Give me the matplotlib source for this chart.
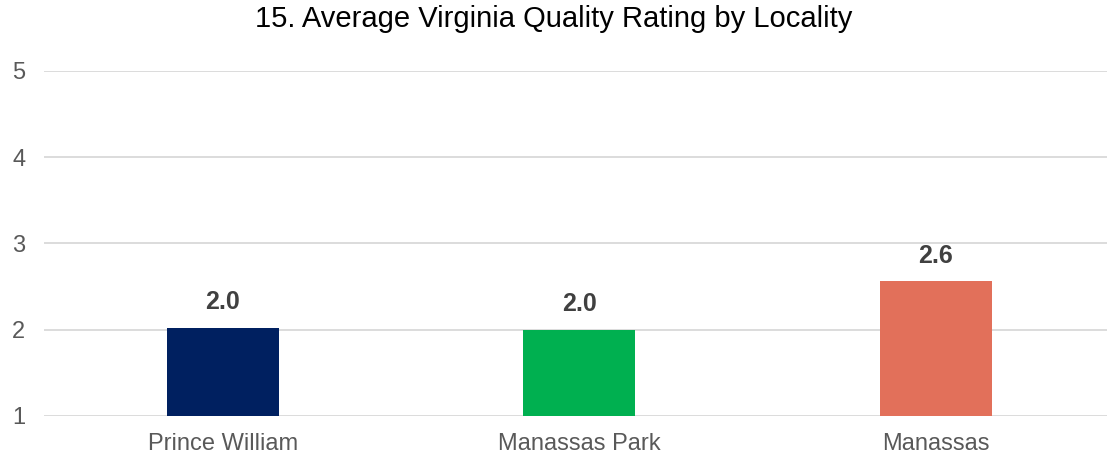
import matplotlib
matplotlib.use('Agg')
import matplotlib.pyplot as plt
import numpy as np

# data
localities = ['Prince William', 'Manassas Park', 'Manassas']
ratings = [2.02, 2.0, 2.56]
bar_colors = ['#002060', '#00B050', '#E2705A']
yticks = [1, 2, 3, 4, 5]

plt.rcParams['font.family'] = ['Liberation Sans', 'DejaVu Sans']

fig = plt.figure(figsize=(11.07, 4.57), dpi=100)
ax = fig.add_axes([0.040, 0.090, 0.960, 0.755])

x = np.arange(len(localities))
ax.bar(x, np.array(ratings) - 1, bottom=1, width=0.314, color=bar_colors, zorder=3)

for xi, v in zip(x, ratings):
    ax.text(xi, v + 0.16, '{:.1f}'.format(v), ha='center', va='bottom',
            fontsize=18, fontweight='bold', color='#404040')

ax.set_xlim(-0.5, 2.48)
ax.set_ylim(1, 5)
ax.set_yticks(yticks)
ax.set_xticks(x)
ax.set_xticklabels(localities)
ax.grid(axis='y', color='#D9D9D9', linewidth=1.3, zorder=0)
for s in ax.spines.values():
    s.set_visible(False)
ax.tick_params(length=0, labelsize=17, labelcolor='#595959')
ax.tick_params(axis='y', pad=23)
ax.tick_params(axis='x', pad=12)
for lab in ax.get_yticklabels():
    lab.set_horizontalalignment('left')

fig.suptitle('15. Average Virginia Quality Rating by Locality', fontsize=21,
             y=0.99, va='top', color='#000000')

fig.savefig('out.png', dpi=100)
